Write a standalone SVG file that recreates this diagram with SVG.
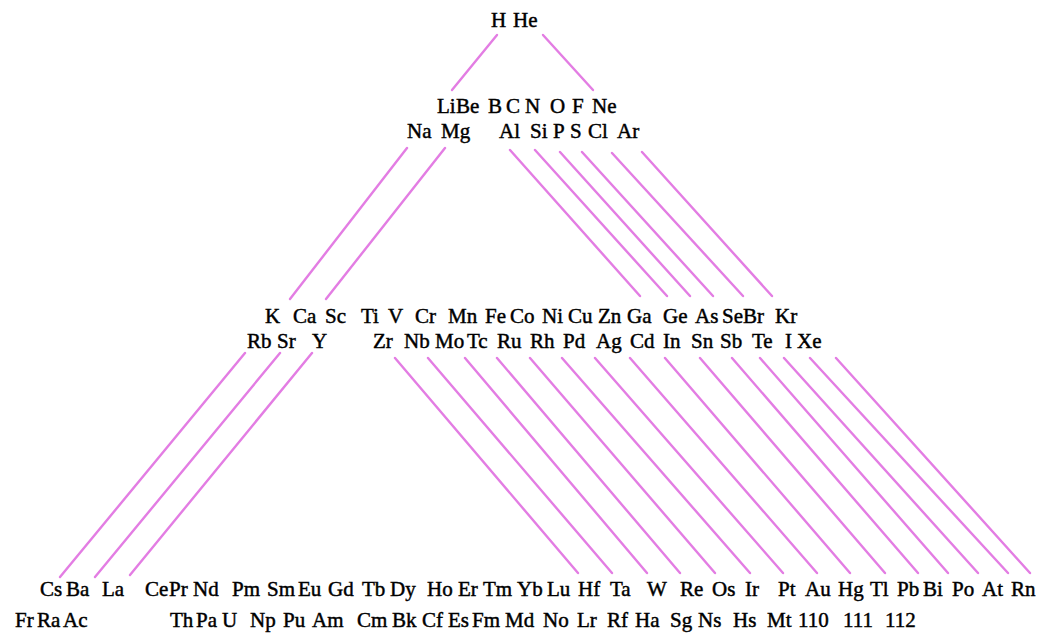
<svg xmlns="http://www.w3.org/2000/svg" width="1043" height="634" viewBox="0 0 1043 634">
<style>
.t{font-family:"Liberation Serif","Times New Roman",serif;font-size:21px;fill:#000;stroke:#000;stroke-width:0.45px}
.c{stroke:#e37de3;stroke-width:2.4;stroke-linecap:round;fill:none}
</style>
<rect width="1043" height="634" fill="#fff"/>
<g id="connectors">
<line class="c" x1="497" y1="35" x2="452" y2="90"/>
<line class="c" x1="543" y1="35" x2="593" y2="90"/>
<line class="c" x1="407" y1="148" x2="290" y2="299"/>
<line class="c" x1="445" y1="148" x2="326" y2="299"/>
<line class="c" x1="510" y1="150" x2="640" y2="296"/>
<line class="c" x1="535" y1="150" x2="667" y2="296"/>
<line class="c" x1="560" y1="152" x2="690" y2="296"/>
<line class="c" x1="582" y1="152" x2="713" y2="296"/>
<line class="c" x1="612" y1="153" x2="743" y2="296"/>
<line class="c" x1="642" y1="152" x2="772" y2="296"/>
<line class="c" x1="245" y1="353" x2="60" y2="577"/>
<line class="c" x1="280" y1="353" x2="95" y2="577"/>
<line class="c" x1="312" y1="353" x2="130" y2="575"/>
<line class="c" x1="395" y1="358" x2="578" y2="573"/>
<line class="c" x1="428" y1="358" x2="612" y2="573"/>
<line class="c" x1="465" y1="358" x2="647" y2="573"/>
<line class="c" x1="497" y1="358" x2="680" y2="573"/>
<line class="c" x1="530" y1="358" x2="715" y2="573"/>
<line class="c" x1="562" y1="358" x2="750" y2="573"/>
<line class="c" x1="595" y1="358" x2="783" y2="573"/>
<line class="c" x1="630" y1="358" x2="817" y2="573"/>
<line class="c" x1="665" y1="358" x2="850" y2="573"/>
<line class="c" x1="700" y1="358" x2="885" y2="573"/>
<line class="c" x1="732" y1="358" x2="918" y2="573"/>
<line class="c" x1="760" y1="358" x2="948" y2="573"/>
<line class="c" x1="784" y1="358" x2="978" y2="573"/>
<line class="c" x1="810" y1="358" x2="1008" y2="573"/>
<line class="c" x1="836" y1="358" x2="1030" y2="573"/>
</g>
<g id="n-H"><text class="t" x="491" y="27">H</text></g>
<g id="n-He"><text class="t" x="513" y="27">He</text></g>
<g id="n-Li"><text class="t" x="437" y="113">Li</text></g>
<g id="n-Be"><text class="t" x="456" y="113">Be</text></g>
<g id="n-B"><text class="t" x="488" y="113">B</text></g>
<g id="n-C"><text class="t" x="506" y="113">C</text></g>
<g id="n-N"><text class="t" x="525" y="113">N</text></g>
<g id="n-O"><text class="t" x="550" y="113">O</text></g>
<g id="n-F"><text class="t" x="572" y="113">F</text></g>
<g id="n-Ne"><text class="t" x="592" y="113">Ne</text></g>
<g id="n-Na"><text class="t" x="407" y="138">Na</text></g>
<g id="n-Mg"><text class="t" x="441" y="138">Mg</text></g>
<g id="n-Al"><text class="t" x="499" y="138">Al</text></g>
<g id="n-Si"><text class="t" x="530" y="138">Si</text></g>
<g id="n-P"><text class="t" x="553" y="138">P</text></g>
<g id="n-S"><text class="t" x="570" y="138">S</text></g>
<g id="n-Cl"><text class="t" x="588" y="138">Cl</text></g>
<g id="n-Ar"><text class="t" x="617" y="138">Ar</text></g>
<g id="n-K"><text class="t" x="265" y="323">K</text></g>
<g id="n-Ca"><text class="t" x="293" y="323">Ca</text></g>
<g id="n-Sc"><text class="t" x="325" y="323">Sc</text></g>
<g id="n-Ti"><text class="t" x="361" y="323">Ti</text></g>
<g id="n-V"><text class="t" x="388" y="323">V</text></g>
<g id="n-Cr"><text class="t" x="415" y="323">Cr</text></g>
<g id="n-Mn"><text class="t" x="448" y="323">Mn</text></g>
<g id="n-Fe"><text class="t" x="485" y="323">Fe</text></g>
<g id="n-Co"><text class="t" x="510" y="323">Co</text></g>
<g id="n-Ni"><text class="t" x="542" y="323">Ni</text></g>
<g id="n-Cu"><text class="t" x="568" y="323">Cu</text></g>
<g id="n-Zn"><text class="t" x="598" y="323">Zn</text></g>
<g id="n-Ga"><text class="t" x="627" y="323">Ga</text></g>
<g id="n-Ge"><text class="t" x="663" y="323">Ge</text></g>
<g id="n-As"><text class="t" x="695" y="323">As</text></g>
<g id="n-Se"><text class="t" x="722" y="323">Se</text></g>
<g id="n-Br"><text class="t" x="743" y="323">Br</text></g>
<g id="n-Kr"><text class="t" x="775" y="323">Kr</text></g>
<g id="n-Rb"><text class="t" x="247" y="348">Rb</text></g>
<g id="n-Sr"><text class="t" x="277" y="348">Sr</text></g>
<g id="n-Y"><text class="t" x="312" y="348">Y</text></g>
<g id="n-Zr"><text class="t" x="373" y="348">Zr</text></g>
<g id="n-Nb"><text class="t" x="404" y="348">Nb</text></g>
<g id="n-Mo"><text class="t" x="435" y="348">Mo</text></g>
<g id="n-Tc"><text class="t" x="467" y="348">Tc</text></g>
<g id="n-Ru"><text class="t" x="497" y="348">Ru</text></g>
<g id="n-Rh"><text class="t" x="530" y="348">Rh</text></g>
<g id="n-Pd"><text class="t" x="563" y="348">Pd</text></g>
<g id="n-Ag"><text class="t" x="596" y="348">Ag</text></g>
<g id="n-Cd"><text class="t" x="630" y="348">Cd</text></g>
<g id="n-In"><text class="t" x="663" y="348">In</text></g>
<g id="n-Sn"><text class="t" x="691" y="348">Sn</text></g>
<g id="n-Sb"><text class="t" x="720" y="348">Sb</text></g>
<g id="n-Te"><text class="t" x="752" y="348">Te</text></g>
<g id="n-I"><text class="t" x="785" y="348">I</text></g>
<g id="n-Xe"><text class="t" x="797" y="348">Xe</text></g>
<g id="n-Cs"><text class="t" x="40" y="596">Cs</text></g>
<g id="n-Ba"><text class="t" x="66" y="596">Ba</text></g>
<g id="n-La"><text class="t" x="102" y="596">La</text></g>
<g id="n-Ce"><text class="t" x="145" y="596">Ce</text></g>
<g id="n-Pr"><text class="t" x="169" y="596">Pr</text></g>
<g id="n-Nd"><text class="t" x="193" y="596">Nd</text></g>
<g id="n-Pm"><text class="t" x="232" y="596">Pm</text></g>
<g id="n-Sm"><text class="t" x="267" y="596">Sm</text></g>
<g id="n-Eu"><text class="t" x="298" y="596">Eu</text></g>
<g id="n-Gd"><text class="t" x="328" y="596">Gd</text></g>
<g id="n-Tb"><text class="t" x="362" y="596">Tb</text></g>
<g id="n-Dy"><text class="t" x="390" y="596">Dy</text></g>
<g id="n-Ho"><text class="t" x="427" y="596">Ho</text></g>
<g id="n-Er"><text class="t" x="458" y="596">Er</text></g>
<g id="n-Tm"><text class="t" x="483" y="596">Tm</text></g>
<g id="n-Yb"><text class="t" x="517" y="596">Yb</text></g>
<g id="n-Lu"><text class="t" x="547" y="596">Lu</text></g>
<g id="n-Hf"><text class="t" x="578" y="596">Hf</text></g>
<g id="n-Ta"><text class="t" x="610" y="596">Ta</text></g>
<g id="n-W"><text class="t" x="647" y="596">W</text></g>
<g id="n-Re"><text class="t" x="680" y="596">Re</text></g>
<g id="n-Os"><text class="t" x="712" y="596">Os</text></g>
<g id="n-Ir"><text class="t" x="745" y="596">Ir</text></g>
<g id="n-Pt"><text class="t" x="778" y="596">Pt</text></g>
<g id="n-Au"><text class="t" x="805" y="596">Au</text></g>
<g id="n-Hg"><text class="t" x="838" y="596">Hg</text></g>
<g id="n-Tl"><text class="t" x="870" y="596">Tl</text></g>
<g id="n-Pb"><text class="t" x="897" y="596">Pb</text></g>
<g id="n-Bi"><text class="t" x="923" y="596">Bi</text></g>
<g id="n-Po"><text class="t" x="952" y="596">Po</text></g>
<g id="n-At"><text class="t" x="982" y="596">At</text></g>
<g id="n-Rn"><text class="t" x="1011" y="596">Rn</text></g>
<g id="n-Fr"><text class="t" x="15" y="627">Fr</text></g>
<g id="n-Ra"><text class="t" x="37" y="627">Ra</text></g>
<g id="n-Ac"><text class="t" x="63" y="627">Ac</text></g>
<g id="n-Th"><text class="t" x="170" y="627">Th</text></g>
<g id="n-Pa"><text class="t" x="196" y="627">Pa</text></g>
<g id="n-U"><text class="t" x="222" y="627">U</text></g>
<g id="n-Np"><text class="t" x="250" y="627">Np</text></g>
<g id="n-Pu"><text class="t" x="283" y="627">Pu</text></g>
<g id="n-Am"><text class="t" x="312" y="627">Am</text></g>
<g id="n-Cm"><text class="t" x="357" y="627">Cm</text></g>
<g id="n-Bk"><text class="t" x="392" y="627">Bk</text></g>
<g id="n-Cf"><text class="t" x="422" y="627">Cf</text></g>
<g id="n-Es"><text class="t" x="448" y="627">Es</text></g>
<g id="n-Fm"><text class="t" x="472" y="627">Fm</text></g>
<g id="n-Md"><text class="t" x="505" y="627">Md</text></g>
<g id="n-No"><text class="t" x="543" y="627">No</text></g>
<g id="n-Lr"><text class="t" x="577" y="627">Lr</text></g>
<g id="n-Rf"><text class="t" x="607" y="627">Rf</text></g>
<g id="n-Ha"><text class="t" x="635" y="627">Ha</text></g>
<g id="n-Sg"><text class="t" x="670" y="627">Sg</text></g>
<g id="n-Ns"><text class="t" x="698" y="627">Ns</text></g>
<g id="n-Hs"><text class="t" x="733" y="627">Hs</text></g>
<g id="n-Mt"><text class="t" x="767" y="627">Mt</text></g>
<g id="n-110"><text class="t" x="798" y="627">110</text></g>
<g id="n-111"><text class="t" x="843" y="627">111</text></g>
<g id="n-112"><text class="t" x="885" y="627">112</text></g>
</svg>
